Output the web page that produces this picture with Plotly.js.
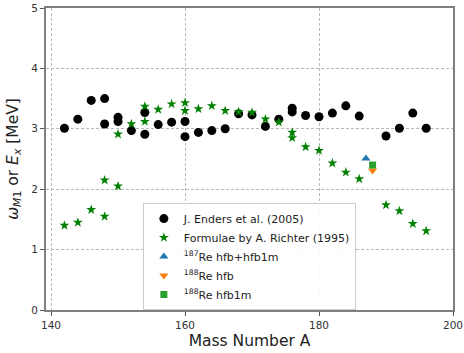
<!DOCTYPE html>
<html><head><meta charset="utf-8">
<script src="https://cdn.plot.ly/plotly-3.0.1.min.js"></script>
<style>html,body{margin:0;padding:0;background:#fff}#chart{width:464px;height:353px}</style>
</head><body><div id="chart"></div>
<script>
const endersA = [142,144,146,148,148,150,150,152,154,154,156,158,160,160,162,164,166,168,170,172,174,176,176,178,180,182,184,186,190,192,194,196];
const endersE = [3.01,3.16,3.47,3.50,3.08,3.19,3.12,2.97,3.27,2.91,3.07,3.11,3.12,2.87,2.94,2.97,3.00,3.25,3.23,3.04,3.16,3.34,3.28,3.22,3.20,3.26,3.38,3.21,2.88,3.01,3.26,3.01];
const richterA = [142,144,146,148,148,150,150,152,154,154,156,158,160,160,162,164,166,168,170,172,174,176,176,178,180,182,184,186,190,192,194,196];
const richterE = [1.40,1.45,1.66,1.55,2.15,2.05,2.91,3.08,3.37,3.12,3.32,3.41,3.43,3.30,3.33,3.38,3.30,3.28,3.27,3.16,3.11,2.94,2.85,2.70,2.64,2.43,2.28,2.17,1.74,1.64,1.43,1.31];
const re187A = [187], re187E = [2.51];
const re188hfbA = [188], re188hfbE = [2.31];
const re188hfb1mA = [188], re188hfb1mE = [2.40];
const xTicks = [140,160,180,200];
const yTicks = [0,1,2,3,4,5];

const traces = [
  {x: endersA, y: endersE, mode:'markers', type:'scatter', name:'J. Enders et al. (2005)',
   marker:{color:'black', size:9, symbol:'circle'}},
  {x: richterA, y: richterE, mode:'markers', type:'scatter', name:'Formulae by A. Richter (1995)',
   marker:{color:'green', size:7.5, symbol:'star'}},
  {x: re187A, y: re187E, mode:'markers', type:'scatter', name:'<sup>187</sup>Re hfb+hfb1m',
   marker:{color:'#1f77b4', size:8, symbol:'triangle-up'}},
  {x: re188hfbA, y: re188hfbE, mode:'markers', type:'scatter', name:'<sup>188</sup>Re hfb',
   marker:{color:'#ff7f0e', size:8, symbol:'triangle-down'}},
  {x: re188hfb1mA, y: re188hfb1mE, mode:'markers', type:'scatter', name:'<sup>188</sup>Re hfb1m',
   marker:{color:'#2ca02c', size:7, symbol:'square'}}
];

const axisCommon = {
  showline:true, mirror:true, linecolor:'#808080', linewidth:2,
  showgrid:true, gridcolor:'#b8b8b8', griddash:'3px,2px', gridwidth:1,
  ticks:'outside', ticklen:4, tickcolor:'#555', zeroline:false,
  tickfont:{family:'DejaVu Sans', size:10.5, color:'#333'}
};

const layout = {
  width:464, height:353,
  margin:{l:46, r:11, t:8, b:43},
  paper_bgcolor:'white', plot_bgcolor:'white',
  font:{family:'DejaVu Sans', color:'#222'},
  showlegend:true,
  legend:{x:0.238, y:0.354, xanchor:'left', yanchor:'top',
    bgcolor:'rgba(255,255,255,0.9)', bordercolor:'#cccccc', borderwidth:1,
    font:{family:'DejaVu Sans', size:11, color:'#222'}, tracegroupgap:0},
  xaxis: Object.assign({}, axisCommon, {range:[139.25,200], tickvals:xTicks,
    title:{text:'Mass Number A', font:{family:'DejaVu Sans', size:15.5, color:'#222'}, standoff:6}}),
  yaxis: Object.assign({}, axisCommon, {range:[0,5], tickvals:yTicks,
    title:{text:'<i>ω</i><sub><i>M</i>1</sub> or <i>E</i><sub><i>x</i></sub> [MeV]', font:{family:'DejaVu Sans', size:15.5, color:'#222'}, standoff:9}})
};

Plotly.newPlot('chart', traces, layout, {staticPlot:true, displayModeBar:false});
</script></body></html>
